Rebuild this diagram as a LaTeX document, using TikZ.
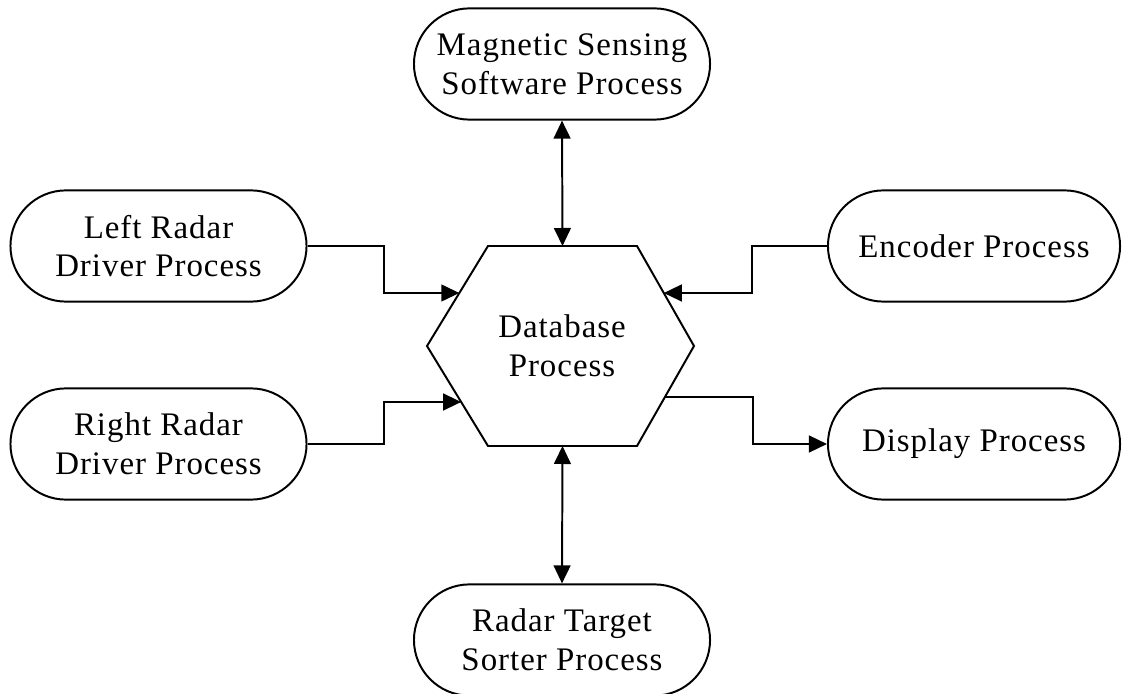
\documentclass[tikz,border=0pt]{standalone}
\usepackage{fontspec}
\setmainfont[LetterSpace=3]{Liberation Serif}
\usetikzlibrary{arrows.meta,calc}
\tikzset{
  proc/.style={draw,line width=1.4pt,rectangle,rounded corners=1.39cm,
    minimum width=7.4cm,minimum height=2.78cm,inner sep=0pt,align=center,
    font=\fontsize{23.4pt}{27.5pt}\selectfont},
  link/.style={line width=1.4pt},
  >={Triangle[length=0.45cm,width=0.42cm]}
}
\begin{document}
\begin{tikzpicture}[x=0.025cm,y=-0.025cm]
\useasboundingbox (0,0) rectangle (1123,694);
%processos
  \node[proc] (magsense) at (562,64) {Magnetic Sensing\\Software Process};
  \node[proc] (lradar) at (158.5,246) {Left Radar\\Driver Process};
  \node[proc] (rradar) at (158.5,444) {Right Radar\\Driver Process};
  \node[proc,minimum width=7.3cm] (encoder) at (974,246) {Encoder Process};
  \node[proc,minimum width=7.3cm] (display) at (974,444) {Display Process};
  \node[proc] (sorter) at (562,640) {Radar Target\\Sorter Process};

%hexagono
  \coordinate (htl) at (488,246);
  \coordinate (htr) at (637,246);
  \coordinate (hr) at (694,346);
  \coordinate (hbr) at (637,446);
  \coordinate (hbl) at (488,446);
  \coordinate (hl) at (427,346);
  \draw[link] (htl) -- (htr) -- (hr) -- (hbr) -- (hbl) -- (hl) -- cycle;
  \node[align=center,font=\fontsize{23.4pt}{27.5pt}\selectfont] (db) at (562,346) {Database\\Process};

%pontos nas arestas
  \coordinate (htop) at ($(htl)!0.5!(htr)$);
  \coordinate (hbot) at ($(hbl)!0.5!(hbr)$);
  \coordinate (inL1) at ($(hl)!0.53!(htl)$);
  \coordinate (inL2) at ($(hl)!0.56!(hbl)$);
  \coordinate (inR) at ($(hr)!0.53!(htr)$);
  \coordinate (outR) at ($(hr)!0.51!(hbr)$);

%ligacoes
  \draw[link,<->] (magsense.south) -- (htop);
  \draw[link,<->] (hbot) -- (sorter.north);
  \draw[link,->] (lradar.east) -- ++(76,0) |- (inL1);
  \draw[link,->] (rradar.east) -- ++(76,0) |- (inL2);
  \draw[link,->] (encoder.west) -- ++(-75,0) |- (inR);
  \draw[link,->] (outR) -- ++(88,0) |- (display.west);
\end{tikzpicture}
\end{document}
